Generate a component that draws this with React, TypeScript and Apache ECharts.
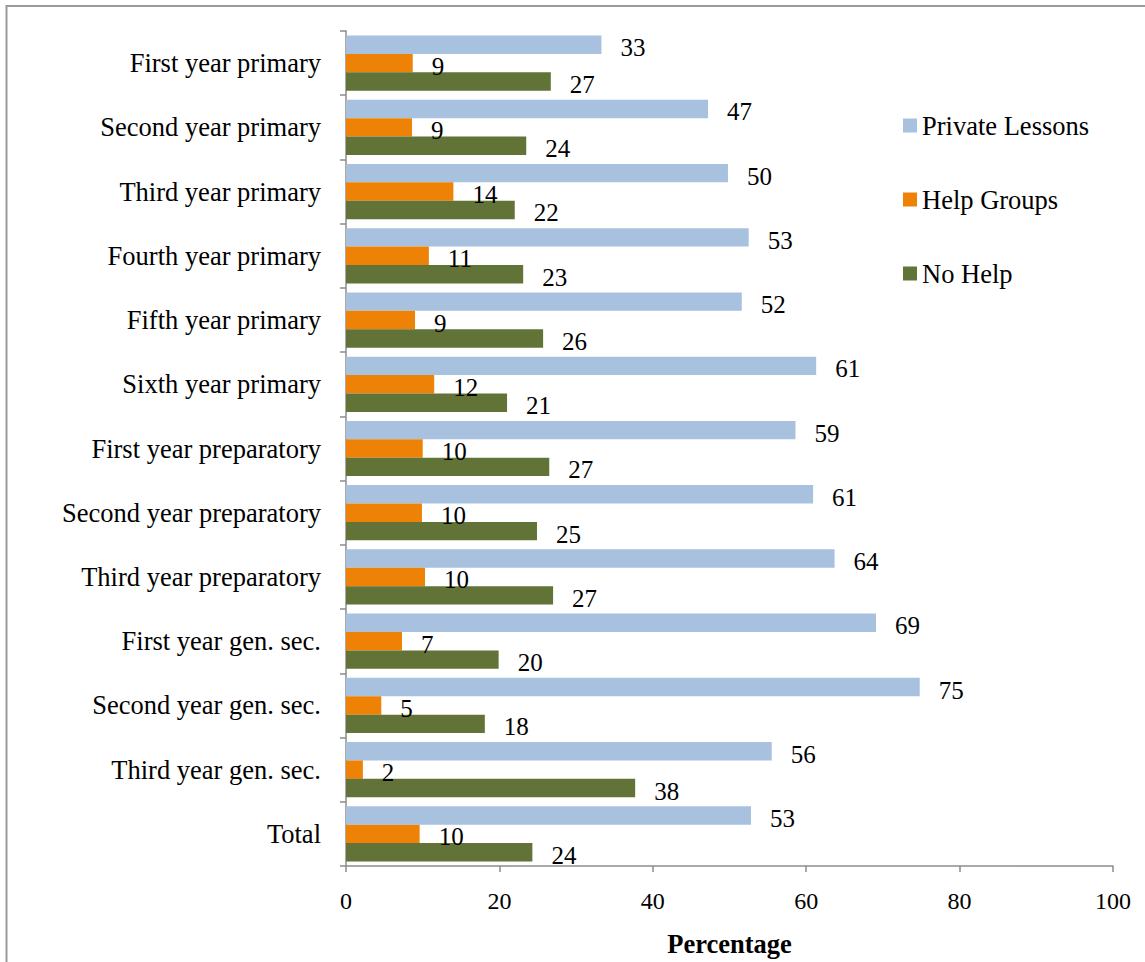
import React, { useEffect, useRef } from "react";
import * as echarts from "echarts";

const categories = [
  "First year primary",
  "Second year primary",
  "Third year primary",
  "Fourth year primary",
  "Fifth year primary",
  "Sixth year primary",
  "First year preparatory",
  "Second year preparatory",
  "Third year preparatory",
  "First year gen. sec.",
  "Second year gen. sec.",
  "Third year gen. sec.",
  "Total",
];

const privateLessons = [33.3, 47.2, 49.8, 52.5, 51.6, 61.3, 58.6, 60.9, 63.7, 69.1, 74.8, 55.5, 52.8];
const helpGroups = [8.7, 8.6, 14.0, 10.8, 9.0, 11.5, 10.0, 9.9, 10.3, 7.3, 4.6, 2.2, 9.6];
const noHelp = [26.7, 23.5, 22.0, 23.1, 25.7, 21.0, 26.5, 24.9, 27.0, 19.9, 18.1, 37.7, 24.3];

const xTicks = { min: 0, max: 100, interval: 20 };

const FONT = "Liberation Serif, Times New Roman, serif";

export default function App() {
  const ref = useRef<HTMLDivElement>(null);
  useEffect(() => {
    document.body.style.margin = "0";
    if (!ref.current) return;
    const chart = echarts.init(ref.current, null, { renderer: "svg" });
    const label = {
      show: true,
      position: "right" as const,
      distance: 19,
      offset: [0, 3],
      color: "#000",
      fontSize: 25,
      fontFamily: FONT,
      formatter: (p: any) => String(Math.round(p.value)),
    };
    const mk = (name: string, data: number[], color: string) => ({
      name,
      type: "bar" as const,
      data,
      barGap: "0%",
      barCategoryGap: "14%",
      itemStyle: { color },
      label,
    });
    chart.setOption({
      animation: false,
      backgroundColor: "#fff",
      textStyle: { fontFamily: FONT },
      graphic: [
        {
          type: "rect",
          shape: { x: 6.5, y: 6, width: 1300, height: 1200 },
          style: { fill: "none", stroke: "#9a9a9a", lineWidth: 2 },
          silent: true,
        },
      ],
      legend: {
        orient: "vertical",
        left: 898,
        top: 107,
        itemWidth: 14,
        itemHeight: 14,
        itemGap: 47,
        icon: "rect",
        data: ["Private Lessons", "Help Groups", "No Help"],
        textStyle: { fontSize: 26.5, fontFamily: FONT, color: "#000", padding: [5, 0, 0, 0] },
      },
      grid: { left: 346, right: 32, top: 31, bottom: 95, containLabel: false },
      xAxis: {
        type: "value",
        min: xTicks.min,
        max: xTicks.max,
        interval: xTicks.interval,
        name: "Percentage",
        nameLocation: "middle",
        nameGap: 64,
        nameTextStyle: { fontSize: 26.5, fontWeight: "bold", fontFamily: FONT, color: "#000" },
        axisLine: { show: true, lineStyle: { color: "#8c8c8c", width: 1.5 } },
        axisTick: { show: true, length: 6, lineStyle: { color: "#8c8c8c", width: 1.5 } },
        splitLine: { show: false },
        axisLabel: { fontSize: 24, fontFamily: FONT, color: "#000", margin: 23 },
      },
      yAxis: {
        type: "category",
        data: categories,
        inverse: true,
        axisLine: { show: true, lineStyle: { color: "#8c8c8c", width: 1.5 } },
        axisTick: { show: true, length: 6, lineStyle: { color: "#8c8c8c", width: 1.5 } },
        axisLabel: {
          fontSize: 26.5,
          fontFamily: FONT,
          color: "#000",
          margin: 25,
          padding: [6, 0, 0, 0],
        },
      },
      series: [
        mk("Private Lessons", privateLessons, "#A7C1DF"),
        mk("Help Groups", helpGroups, "#EE8206"),
        mk("No Help", noHelp, "#627337"),
      ],
    });
    return () => chart.dispose();
  }, []);
  return <div ref={ref} style={{ width: 1145, height: 962 }} />;
}
